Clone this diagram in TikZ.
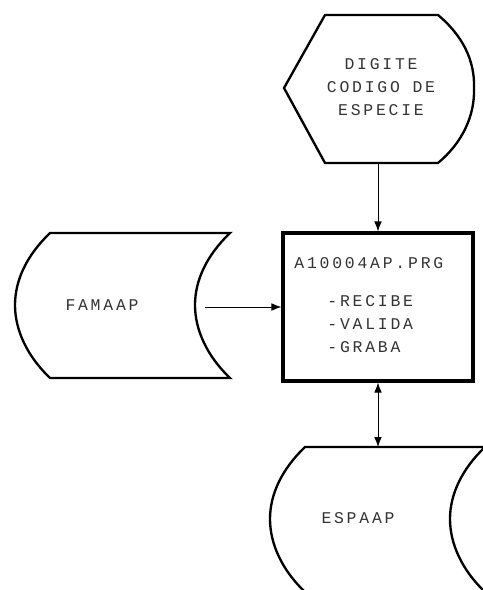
\documentclass[tikz,border=0pt]{standalone}
\usepackage{fontspec}
\newfontfamily\dotfont[LetterSpace=17]{Liberation Mono}
\usetikzlibrary{arrows.meta}

\tikzset{
  label text/.style={font=\dotfont\fontsize{14}{19.6}\selectfont, text=black!80, inner sep=0pt},
  procbox/.style={draw, line width=2.6pt, minimum width=5.7cm, minimum height=4.44cm, inner sep=0pt},
  storage/.pic={
    \draw[line width=2pt] (0,0) -- (180,0)
      .. controls (157,22) and (145,47) .. (145,72)
      .. controls (145,97) and (157,123) .. (180,145) -- (0,145)
      .. controls (-23,123) and (-35,97) .. (-35,72)
      .. controls (-35,47) and (-23,22) .. (0,0) -- cycle;
  }
}

\begin{document}
\begin{tikzpicture}[x=0.03cm, y=-0.03cm, >={Latex[length=3mm, width=2.3mm]}, line width=0.8pt]
  \useasboundingbox (0,0) rectangle (483,590);
  \clip (0,0) rectangle (483,590);

  % pantalla: digite codigo de especie
  \draw[line width=2pt] (325,15) -- (438,15)
    .. controls (462,35) and (475,60) .. (474,88)
    .. controls (475,116) and (462,143) .. (438,163)
    -- (325,163) -- (284,88) -- cycle;
  \node[label text, align=center] (digite) at (381,87) {DIGITE\\CODIGO DE\\ESPECIE};
  \coordinate (digite-b) at (378,163);

  % archivo FAMAAP
  \pic at (50,233) {storage};
  \node[label text] (famaap) at (102,305) {FAMAAP};
  \coordinate (famaap-e) at (205,307);

  % programa
  \node[procbox] (prg) at (378,307) {};
  \node[label text, anchor=west] (prgname) at (294,263) {A10004AP.PRG};
  \node[label text, anchor=north west, align=left] (steps) at (327,295) {-RECIBE\\-VALIDA\\-GRABA};

  % archivo ESPAAP
  \pic at (305,447) {storage};
  \node[label text] (espaap) at (358,518) {ESPAAP};
  \coordinate (espaap-t) at (378,447);

  % flujos
  \draw[->] (digite-b) -- (prg.north);
  \draw[->] (famaap-e) -- (prg.west);
  \draw[<->] (prg.south) -- (espaap-t);
\end{tikzpicture}
\end{document}
